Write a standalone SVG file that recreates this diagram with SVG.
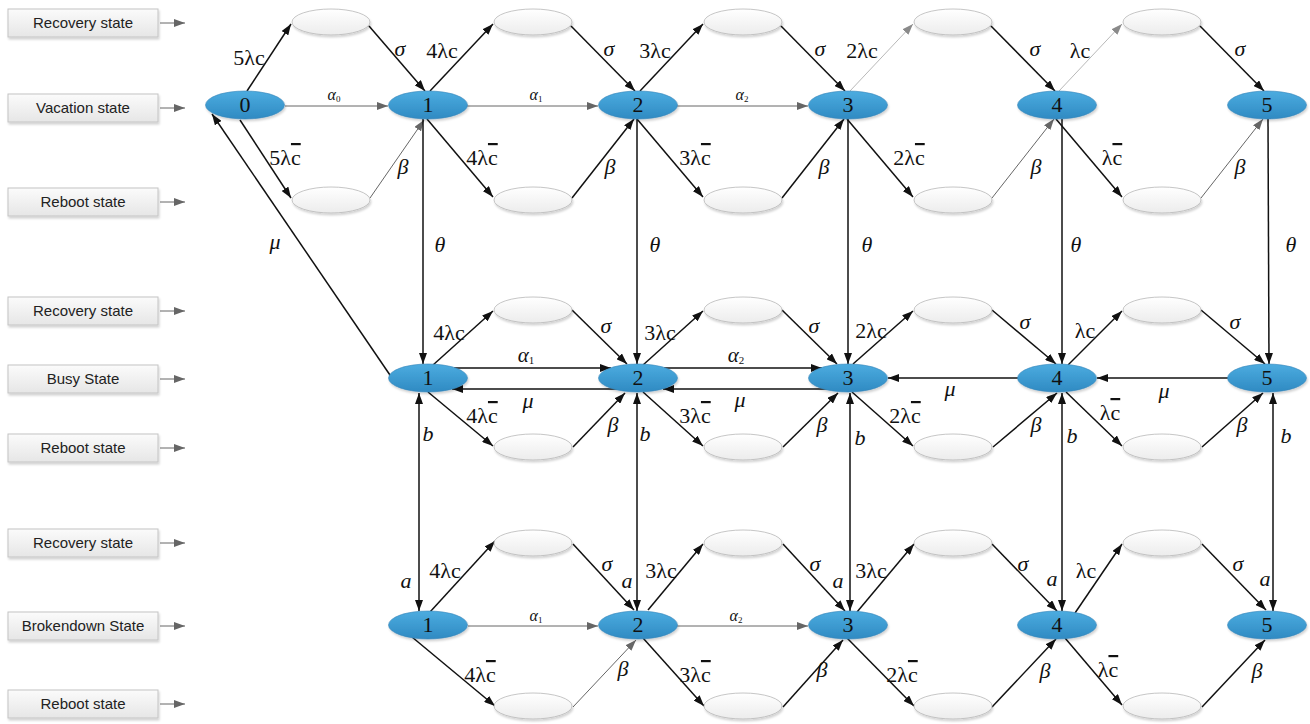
<svg xmlns="http://www.w3.org/2000/svg" width="1310" height="724" viewBox="0 0 1310 724">
<defs>
<linearGradient id="gb" x1="0" y1="0" x2="0" y2="1"><stop offset="0" stop-color="#4cace0"/><stop offset="1" stop-color="#2f8ac2"/></linearGradient>
<linearGradient id="gw" x1="0" y1="0" x2="0" y2="1"><stop offset="0" stop-color="#ffffff"/><stop offset="1" stop-color="#ececec"/></linearGradient>
<linearGradient id="gx" x1="0" y1="0" x2="0" y2="1"><stop offset="0" stop-color="#fbfbfb"/><stop offset="1" stop-color="#e6e6e6"/></linearGradient>
<filter id="sh" x="-20%" y="-30%" width="140%" height="170%"><feDropShadow dx="1" dy="2" stdDeviation="1.2" flood-color="#000" flood-opacity="0.18"/></filter>
<marker id="ab" viewBox="0 0 11 8" refX="11" refY="4" markerWidth="11" markerHeight="8" markerUnits="userSpaceOnUse" orient="auto-start-reverse"><path d="M0,0 L11,4 L0,8 z" fill="#111"/></marker>
<marker id="ag" viewBox="0 0 11 8" refX="11" refY="4" markerWidth="11" markerHeight="8" markerUnits="userSpaceOnUse" orient="auto"><path d="M0,0 L11,4 L0,8 z" fill="#666"/></marker>
<marker id="al" viewBox="0 0 11 8" refX="11" refY="4" markerWidth="11" markerHeight="8" markerUnits="userSpaceOnUse" orient="auto"><path d="M0,0 L11,4 L0,8 z" fill="#8a8a8a"/></marker>
</defs>
<style>
.k{stroke:#111;stroke-width:1.5;fill:none;marker-end:url(#ab)}
.d{stroke:#111;stroke-width:1.5;fill:none;marker-start:url(#ab);marker-end:url(#ab)}
.g{stroke:#666;stroke-width:1;fill:none;marker-end:url(#ag)}
.l{stroke:#b0b0b0;stroke-width:0.9;fill:none;marker-end:url(#al)}
.bn{fill:url(#gb);stroke:#3585b8;stroke-width:0.6;filter:url(#sh)}
.wn{fill:url(#gw);stroke:#b8b8b8;stroke-width:0.8;filter:url(#sh)}
.bx{fill:url(#gx);stroke:#c4c4c4;stroke-width:1;filter:url(#sh)}
.nt{font-family:"Liberation Serif","Times New Roman",serif;font-size:22px;fill:#111;text-anchor:middle}
.t{font-family:"Liberation Serif","Times New Roman",serif;font-size:22px;fill:#111;text-anchor:middle}
.i{font-style:italic}
.sa{font-family:"Liberation Serif","Times New Roman",serif;font-size:16px;font-style:italic;fill:#111;text-anchor:middle}
.ba{font-family:"Liberation Serif","Times New Roman",serif;font-size:21px;font-style:italic;fill:#111;text-anchor:middle}
.ob{text-decoration:overline}
.lb{font-family:"Liberation Sans",Arial,sans-serif;font-size:15px;fill:#222;text-anchor:middle}
.la{stroke:#666;stroke-width:1;fill:none;marker-end:url(#ag)}
</style>
<rect width="1310" height="724" fill="#ffffff"/>

<g id="legend">
<g id="lab-recovery-1"><rect class="bx" x="8" y="9" width="150" height="28"/><text class="lb" x="83" y="28">Recovery state</text><line class="la" x1="160" y1="23" x2="185" y2="23"/></g>
<g id="lab-vacation"><rect class="bx" x="8" y="94" width="150" height="28"/><text class="lb" x="83" y="113">Vacation state</text><line class="la" x1="160" y1="108" x2="185" y2="108"/></g>
<g id="lab-reboot-1"><rect class="bx" x="8" y="188" width="150" height="28"/><text class="lb" x="83" y="207">Reboot state</text><line class="la" x1="160" y1="202" x2="185" y2="202"/></g>
<g id="lab-recovery-2"><rect class="bx" x="8" y="297" width="150" height="28"/><text class="lb" x="83" y="316">Recovery state</text><line class="la" x1="160" y1="311" x2="185" y2="311"/></g>
<g id="lab-busy"><rect class="bx" x="8" y="365" width="150" height="28"/><text class="lb" x="83" y="384">Busy State</text><line class="la" x1="160" y1="379" x2="185" y2="379"/></g>
<g id="lab-reboot-2"><rect class="bx" x="8" y="434" width="150" height="28"/><text class="lb" x="83" y="453">Reboot state</text><line class="la" x1="160" y1="448" x2="185" y2="448"/></g>
<g id="lab-recovery-3"><rect class="bx" x="8" y="529" width="150" height="28"/><text class="lb" x="83" y="548">Recovery state</text><line class="la" x1="160" y1="543" x2="185" y2="543"/></g>
<g id="lab-broken"><rect class="bx" x="8" y="612" width="150" height="28"/><text class="lb" x="83" y="631">Brokendown State</text><line class="la" x1="160" y1="626" x2="185" y2="626"/></g>
<g id="lab-reboot-3"><rect class="bx" x="8" y="690" width="150" height="28"/><text class="lb" x="83" y="709">Reboot state</text><line class="la" x1="160" y1="704" x2="185" y2="704"/></g>
</g>

<g id="connectors">
<!-- top row -->
<line class="k" x1="247" y1="91" x2="291" y2="24"/>
<line class="k" x1="369" y1="26" x2="425" y2="91"/>
<line class="k" x1="240" y1="120" x2="291" y2="198"/>
<line class="g" x1="370" y1="198" x2="424" y2="120"/>
<line class="g" x1="285" y1="106" x2="388" y2="106"/>
<line class="k" x1="430" y1="91" x2="493" y2="24"/>
<line class="k" x1="571" y1="26" x2="635" y2="91"/>
<line class="k" x1="427" y1="119" x2="493" y2="197"/>
<line class="k" x1="572" y1="198" x2="634" y2="119"/>
<line class="g" x1="467" y1="106" x2="598" y2="106"/>
<line class="k" x1="640" y1="91" x2="703" y2="24"/>
<line class="k" x1="781" y1="26" x2="845" y2="91"/>
<line class="k" x1="637" y1="119" x2="703" y2="197"/>
<line class="k" x1="782" y1="198" x2="844" y2="119"/>
<line class="g" x1="677" y1="106" x2="808" y2="106"/>
<line class="l" x1="850" y1="91" x2="913" y2="24"/>
<line class="k" x1="991" y1="26" x2="1055" y2="91"/>
<line class="k" x1="847" y1="119" x2="913" y2="197"/>
<line class="g" x1="992" y1="198" x2="1054" y2="119"/>
<line class="l" x1="1059" y1="91" x2="1122" y2="24"/>
<line class="k" x1="1200" y1="26" x2="1264" y2="91"/>
<line class="k" x1="1056" y1="119" x2="1122" y2="197"/>
<line class="g" x1="1201" y1="198" x2="1263" y2="119"/>
<!-- theta -->
<line class="k" x1="423" y1="119" x2="423" y2="364"/>
<line class="k" x1="637" y1="119" x2="637" y2="364"/>
<line class="k" x1="848" y1="119" x2="848" y2="364"/>
<line class="k" x1="1062" y1="119" x2="1062" y2="364"/>
<line class="k" x1="1268" y1="119" x2="1269" y2="364"/>
<!-- mu to vacation 0 -->
<line class="k" x1="392" y1="378" x2="212" y2="114"/>
<!-- busy row -->
<line class="k" x1="433" y1="365" x2="493" y2="311"/>
<line class="k" x1="572" y1="310" x2="627" y2="364"/>
<line class="k" x1="428" y1="392" x2="493" y2="446"/>
<line class="k" x1="573" y1="447" x2="625" y2="393"/>
<line class="k" x1="454" y1="368" x2="611" y2="368"/>
<line class="k" x1="625" y1="389" x2="452" y2="389"/>
<line class="k" x1="643" y1="365" x2="703" y2="311"/>
<line class="k" x1="782" y1="310" x2="837" y2="364"/>
<line class="k" x1="643" y1="392" x2="703" y2="446"/>
<line class="k" x1="783" y1="447" x2="838" y2="393"/>
<line class="k" x1="664" y1="368" x2="822" y2="368"/>
<line class="k" x1="835" y1="389" x2="663" y2="389"/>
<line class="k" x1="853" y1="364" x2="913" y2="311"/>
<line class="k" x1="992" y1="310" x2="1056" y2="364"/>
<line class="k" x1="852" y1="392" x2="913" y2="446"/>
<line class="k" x1="993" y1="447" x2="1057" y2="393"/>
<line class="k" x1="1030" y1="378" x2="888" y2="378"/>
<line class="k" x1="1068" y1="365" x2="1122" y2="311"/>
<line class="k" x1="1201" y1="310" x2="1265" y2="364"/>
<line class="k" x1="1066" y1="392" x2="1122" y2="446"/>
<line class="k" x1="1202" y1="447" x2="1263" y2="393"/>
<line class="k" x1="1240" y1="378" x2="1097" y2="378"/>
<!-- busy <-> broken -->
<line class="d" x1="419" y1="393" x2="419" y2="611"/>
<line class="d" x1="637" y1="393" x2="637" y2="611"/>
<line class="d" x1="850" y1="393" x2="850" y2="611"/>
<line class="d" x1="1062" y1="393" x2="1062" y2="611"/>
<line class="d" x1="1273" y1="393" x2="1273" y2="611"/>
<!-- broken row -->
<line class="k" x1="430" y1="612" x2="495" y2="541"/>
<line class="k" x1="573" y1="544" x2="634" y2="610"/>
<line class="k" x1="412" y1="637" x2="495" y2="706"/>
<line class="g" x1="573" y1="707" x2="636" y2="640"/>
<line class="g" x1="468" y1="626" x2="598" y2="626"/>
<line class="k" x1="648" y1="610" x2="703" y2="544"/>
<line class="k" x1="783" y1="544" x2="845" y2="611"/>
<line class="k" x1="643" y1="638" x2="704" y2="706"/>
<line class="k" x1="783" y1="707" x2="843" y2="640"/>
<line class="g" x1="677" y1="626" x2="808" y2="626"/>
<line class="k" x1="857" y1="612" x2="914" y2="544"/>
<line class="k" x1="992" y1="544" x2="1057" y2="611"/>
<line class="k" x1="847" y1="638" x2="914" y2="706"/>
<line class="k" x1="992" y1="707" x2="1056" y2="639"/>
<line class="k" x1="1075" y1="613" x2="1122" y2="544"/>
<line class="k" x1="1202" y1="544" x2="1266" y2="610"/>
<line class="k" x1="1065" y1="638" x2="1122" y2="705"/>
<line class="k" x1="1202" y1="707" x2="1265" y2="640"/>
</g>

<g id="labels">
<!-- top row -->
<text class="t" x="249" y="65">5λc</text>
<text class="t i" x="400" y="56">σ</text>
<text class="t" x="442" y="58">4λc</text>
<text class="t i" x="609" y="56">σ</text>
<text class="t" x="655" y="58">3λc</text>
<text class="t i" x="820" y="56">σ</text>
<text class="t" x="862" y="58">2λc</text>
<text class="t i" x="1035" y="56">σ</text>
<text class="t" x="1080" y="58">λc</text>
<text class="t i" x="1240" y="56">σ</text>
<text class="sa" x="334" y="100">α<tspan font-size="9" font-style="normal" dy="2">0</tspan></text>
<text class="sa" x="536" y="100">α<tspan font-size="9" font-style="normal" dy="2">1</tspan></text>
<text class="sa" x="742" y="100">α<tspan font-size="9" font-style="normal" dy="2">2</tspan></text>
<text class="t" x="285" y="165">5λ<tspan class="ob">c</tspan></text>
<text class="t" x="482" y="165">4λ<tspan class="ob">c</tspan></text>
<text class="t" x="695" y="165">3λ<tspan class="ob">c</tspan></text>
<text class="t" x="909" y="165">2λ<tspan class="ob">c</tspan></text>
<text class="t" x="1112" y="165">λ<tspan class="ob">c</tspan></text>
<text class="t i" x="403" y="174">β</text>
<text class="t i" x="610" y="174">β</text>
<text class="t i" x="824" y="174">β</text>
<text class="t i" x="1036" y="174">β</text>
<text class="t i" x="1240" y="174">β</text>
<text class="t i" x="275" y="249">μ</text>
<text class="t i" x="440" y="252">θ</text>
<text class="t i" x="655" y="252">θ</text>
<text class="t i" x="867" y="252">θ</text>
<text class="t i" x="1076" y="252">θ</text>
<text class="t i" x="1291" y="252">θ</text>
<!-- busy row -->
<text class="t" x="449" y="340">4λc</text>
<text class="t i" x="606" y="333">σ</text>
<text class="t" x="660" y="340">3λc</text>
<text class="t i" x="814" y="333">σ</text>
<text class="t" x="871" y="338">2λc</text>
<text class="t i" x="1025" y="329">σ</text>
<text class="t" x="1085" y="338">λc</text>
<text class="t i" x="1235" y="329">σ</text>
<text class="ba" x="526" y="362">α<tspan font-size="11" font-style="normal" dy="2">1</tspan></text>
<text class="ba" x="736" y="362">α<tspan font-size="11" font-style="normal" dy="2">2</tspan></text>
<text class="t i" x="528" y="408">μ</text>
<text class="t i" x="740" y="407">μ</text>
<text class="t i" x="950" y="396">μ</text>
<text class="t i" x="1164" y="398">μ</text>
<text class="t" x="482" y="423">4λ<tspan class="ob">c</tspan></text>
<text class="t" x="695" y="423">3λ<tspan class="ob">c</tspan></text>
<text class="t" x="905" y="423">2λ<tspan class="ob">c</tspan></text>
<text class="t" x="1110" y="420">λ<tspan class="ob">c</tspan></text>
<text class="t i" x="613" y="432">β</text>
<text class="t i" x="822" y="432">β</text>
<text class="t i" x="1036" y="432">β</text>
<text class="t i" x="1242" y="432">β</text>
<text class="t i" x="428" y="441">b</text>
<text class="t i" x="645" y="441">b</text>
<text class="t i" x="860" y="445">b</text>
<text class="t i" x="1072" y="443">b</text>
<text class="t i" x="1286" y="443">b</text>
<!-- broken row -->
<text class="t i" x="406" y="588">a</text>
<text class="t i" x="627" y="588">a</text>
<text class="t i" x="838" y="588">a</text>
<text class="t i" x="1052" y="586">a</text>
<text class="t i" x="1265" y="586">a</text>
<text class="t" x="445" y="578">4λc</text>
<text class="t i" x="607" y="571">σ</text>
<text class="t" x="661" y="578">3λc</text>
<text class="t i" x="815" y="571">σ</text>
<text class="t" x="871" y="578">3λc</text>
<text class="t i" x="1023" y="571">σ</text>
<text class="t" x="1086" y="578">λc</text>
<text class="t i" x="1238" y="571">σ</text>
<text class="sa" x="536" y="621">α<tspan font-size="9" font-style="normal" dy="2">1</tspan></text>
<text class="sa" x="736" y="621">α<tspan font-size="9" font-style="normal" dy="2">2</tspan></text>
<text class="t" x="480" y="682">4λ<tspan class="ob">c</tspan></text>
<text class="t" x="695" y="682">3λ<tspan class="ob">c</tspan></text>
<text class="t" x="902" y="682">2λ<tspan class="ob">c</tspan></text>
<text class="t" x="1108" y="677">λ<tspan class="ob">c</tspan></text>
<text class="t i" x="623" y="676">β</text>
<text class="t i" x="822" y="677">β</text>
<text class="t i" x="1045" y="678">β</text>
<text class="t i" x="1257" y="678">β</text>
</g>

<g id="aux-nodes">
<g id="rec-v01"><ellipse class="wn" cx="331" cy="22" rx="39" ry="13"/></g>
<g id="rec-v12"><ellipse class="wn" cx="533" cy="22" rx="39" ry="13"/></g>
<g id="rec-v23"><ellipse class="wn" cx="743" cy="22" rx="39" ry="13"/></g>
<g id="rec-v34"><ellipse class="wn" cx="953" cy="22" rx="39" ry="13"/></g>
<g id="rec-v45"><ellipse class="wn" cx="1162" cy="22" rx="39" ry="13"/></g>
<g id="reb-v01"><ellipse class="wn" cx="331" cy="200" rx="39" ry="13"/></g>
<g id="reb-v12"><ellipse class="wn" cx="533" cy="200" rx="39" ry="13"/></g>
<g id="reb-v23"><ellipse class="wn" cx="743" cy="200" rx="39" ry="13"/></g>
<g id="reb-v34"><ellipse class="wn" cx="953" cy="200" rx="39" ry="13"/></g>
<g id="reb-v45"><ellipse class="wn" cx="1162" cy="200" rx="39" ry="13"/></g>
<g id="rec-b12"><ellipse class="wn" cx="533" cy="310" rx="39" ry="13"/></g>
<g id="rec-b23"><ellipse class="wn" cx="743" cy="310" rx="39" ry="13"/></g>
<g id="rec-b34"><ellipse class="wn" cx="953" cy="310" rx="39" ry="13"/></g>
<g id="rec-b45"><ellipse class="wn" cx="1162" cy="310" rx="39" ry="13"/></g>
<g id="reb-b12"><ellipse class="wn" cx="533" cy="447" rx="39" ry="13"/></g>
<g id="reb-b23"><ellipse class="wn" cx="743" cy="447" rx="39" ry="13"/></g>
<g id="reb-b34"><ellipse class="wn" cx="953" cy="447" rx="39" ry="13"/></g>
<g id="reb-b45"><ellipse class="wn" cx="1162" cy="447" rx="39" ry="13"/></g>
<g id="rec-d12"><ellipse class="wn" cx="533" cy="543" rx="39" ry="13"/></g>
<g id="rec-d23"><ellipse class="wn" cx="743" cy="543" rx="39" ry="13"/></g>
<g id="rec-d34"><ellipse class="wn" cx="953" cy="543" rx="39" ry="13"/></g>
<g id="rec-d45"><ellipse class="wn" cx="1162" cy="543" rx="39" ry="13"/></g>
<g id="reb-d12"><ellipse class="wn" cx="533" cy="706" rx="39" ry="13"/></g>
<g id="reb-d23"><ellipse class="wn" cx="743" cy="706" rx="39" ry="13"/></g>
<g id="reb-d34"><ellipse class="wn" cx="953" cy="706" rx="39" ry="13"/></g>
<g id="reb-d45"><ellipse class="wn" cx="1162" cy="706" rx="39" ry="13"/></g>
</g>

<g id="state-nodes">
<g id="v0"><ellipse class="bn" cx="245" cy="105" rx="39.5" ry="14"/><text class="nt" x="245" y="112">0</text></g>
<g id="v1"><ellipse class="bn" cx="428" cy="105" rx="39.5" ry="14"/><text class="nt" x="428" y="112">1</text></g>
<g id="v2"><ellipse class="bn" cx="638" cy="105" rx="39.5" ry="14"/><text class="nt" x="638" y="112">2</text></g>
<g id="v3"><ellipse class="bn" cx="848" cy="105" rx="39.5" ry="14"/><text class="nt" x="848" y="112">3</text></g>
<g id="v4"><ellipse class="bn" cx="1057" cy="105" rx="39.5" ry="14"/><text class="nt" x="1057" y="112">4</text></g>
<g id="v5"><ellipse class="bn" cx="1267" cy="105" rx="39.5" ry="14"/><text class="nt" x="1267" y="112">5</text></g>
<g id="b1"><ellipse class="bn" cx="428" cy="378" rx="39.5" ry="14"/><text class="nt" x="428" y="385">1</text></g>
<g id="b2"><ellipse class="bn" cx="638" cy="378" rx="39.5" ry="14"/><text class="nt" x="638" y="385">2</text></g>
<g id="b3"><ellipse class="bn" cx="848" cy="378" rx="39.5" ry="14"/><text class="nt" x="848" y="385">3</text></g>
<g id="b4"><ellipse class="bn" cx="1057" cy="378" rx="39.5" ry="14"/><text class="nt" x="1057" y="385">4</text></g>
<g id="b5"><ellipse class="bn" cx="1267" cy="378" rx="39.5" ry="14"/><text class="nt" x="1267" y="385">5</text></g>
<g id="d1"><ellipse class="bn" cx="428" cy="625" rx="39.5" ry="14"/><text class="nt" x="428" y="632">1</text></g>
<g id="d2"><ellipse class="bn" cx="638" cy="625" rx="39.5" ry="14"/><text class="nt" x="638" y="632">2</text></g>
<g id="d3"><ellipse class="bn" cx="848" cy="625" rx="39.5" ry="14"/><text class="nt" x="848" y="632">3</text></g>
<g id="d4"><ellipse class="bn" cx="1057" cy="625" rx="39.5" ry="14"/><text class="nt" x="1057" y="632">4</text></g>
<g id="d5"><ellipse class="bn" cx="1267" cy="625" rx="39.5" ry="14"/><text class="nt" x="1267" y="632">5</text></g>
</g>
</svg>
